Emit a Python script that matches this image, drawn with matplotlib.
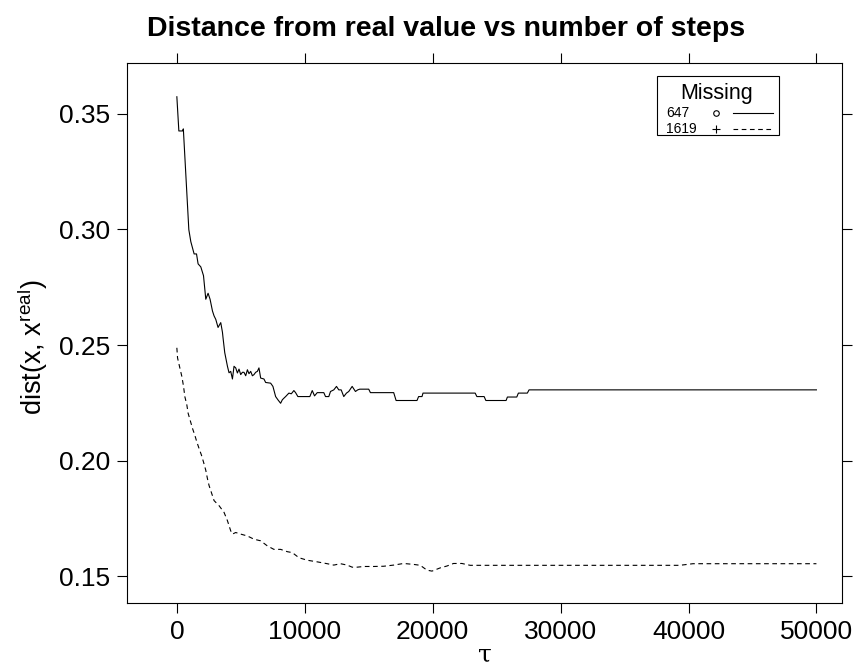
import matplotlib
matplotlib.use("Agg")
import matplotlib.pyplot as plt
from matplotlib.patches import Rectangle
from matplotlib.lines import Line2D

plt.rcParams['font.family'] = ['Liberation Sans', 'DejaVu Sans']
plt.rcParams['mathtext.fontset'] = 'custom'
plt.rcParams['mathtext.rm'] = 'Liberation Sans'

# Distance trace for 647 missing entries (solid)
tau_647 = [0, 156, 445, 507, 936, 1092, 1350, 1537, 1661, 1872, 2083, 2262, 2441,
           2597, 2785, 2909, 3042, 3221, 3432, 3565, 3611, 3744, 3955, 4079, 4212,
           4345, 4469, 4602, 4735, 4859, 4992, 5125, 5249, 5382, 5515, 5639, 5772,
           5905, 6029, 6162, 6295, 6419, 6552, 6809, 6942, 7332, 7511, 7722, 7901,
           8112, 8245, 8369, 8502, 8759, 8947, 9149, 9282, 9461, 10397, 10585,
           10764, 10975, 11489, 11622, 11879, 12012, 12269, 12480, 12659, 12847,
           13049, 13260, 13439, 13705, 13962, 14141, 14297, 15000, 15132, 16952,
           17140, 18775, 18899, 19165, 19243, 23322, 23455, 24024, 24157, 25740,
           25841, 26575, 26700, 27401, 27534, 50000]
dist_647 = [0.3574, 0.3426, 0.3426, 0.3435, 0.2999, 0.2947, 0.2894, 0.2894, 0.2851,
            0.2838, 0.2800, 0.2698, 0.2724, 0.2698, 0.2647, 0.2626, 0.2611, 0.2576,
            0.2597, 0.2555, 0.2531, 0.2467, 0.2408, 0.2380, 0.2386, 0.2353, 0.2408,
            0.2401, 0.2379, 0.2396, 0.2372, 0.2382, 0.2382, 0.2367, 0.2393, 0.2376,
            0.2386, 0.2367, 0.2372, 0.2382, 0.2386, 0.2401, 0.2357, 0.2353, 0.2338,
            0.2335, 0.2321, 0.2277, 0.2263, 0.2248, 0.2263, 0.2270, 0.2277, 0.2292,
            0.2289, 0.2303, 0.2294, 0.2277, 0.2277, 0.2303, 0.2280, 0.2294, 0.2294,
            0.2277, 0.2277, 0.2299, 0.2306, 0.2321, 0.2306, 0.2306, 0.2277, 0.2292,
            0.2299, 0.2321, 0.2299, 0.2306, 0.2309, 0.2309, 0.2294, 0.2294, 0.2260,
            0.2260, 0.2277, 0.2277, 0.2292, 0.2292, 0.2277, 0.2277, 0.2260, 0.2260,
            0.2275, 0.2275, 0.2292, 0.2292, 0.2306, 0.2306]

# Distance trace for 1619 missing entries (dashed)
tau_1619 = [0, 55, 234, 390, 523, 624, 780, 881, 1037, 1225, 1404, 1560, 1739,
            1927, 2083, 2262, 2395, 2519, 2652, 2909, 3299, 3689, 3955, 4212, 4345,
            4602, 4992, 5515, 6029, 6552, 7075, 7589, 8112, 8635, 9025, 9539, 10195,
            10975, 11755, 12269, 12792, 13315, 13705, 14095, 14609, 15389, 16169,
            16949, 17729, 18509, 19032, 19555, 19945, 20592, 21115, 21629, 22285,
            22932, 23712, 27869, 39312, 40349, 50000]
dist_1619 = [0.2488, 0.2444, 0.2401, 0.2364, 0.2321, 0.2277, 0.2241, 0.2205, 0.2175,
             0.2139, 0.2110, 0.2081, 0.2052, 0.2023, 0.1994, 0.1958, 0.1921, 0.1892,
             0.1870, 0.1827, 0.1805, 0.1776, 0.1740, 0.1696, 0.1682, 0.1689, 0.1682,
             0.1674, 0.1660, 0.1653, 0.1631, 0.1616, 0.1616, 0.1606, 0.1602, 0.1580,
             0.1569, 0.1562, 0.1554, 0.1548, 0.1554, 0.1548, 0.1539, 0.1539, 0.1542,
             0.1542, 0.1543, 0.1548, 0.1555, 0.1551, 0.1547, 0.1526, 0.1522, 0.1536,
             0.1544, 0.1555, 0.1555, 0.1547, 0.1547, 0.1547, 0.1547, 0.1554, 0.1554]

x_ticks = [0, 10000, 20000, 30000, 40000, 50000]
y_ticks = [0.15, 0.20, 0.25, 0.30, 0.35]
legend_title = "Missing"
legend_labels = ["647", "1619"]
legend_symbols = ["o", "+"]
legend_styles = ["-", (0, (4.2, 3.2))]

fig = plt.figure(figsize=(8.55, 6.68), dpi=100)
ax = fig.add_axes([0.1485, 0.0973, 0.8363, 0.8084])

ax.plot(tau_647, dist_647, color="black", lw=0.8, ls=legend_styles[0])
ax.plot(tau_1619, dist_1619, color="black", lw=0.8, ls=legend_styles[1])

ax.set_xlim(-3900, 52000)
ax.set_ylim(0.1384, 0.3720)
ax.set_xticks(x_ticks)
ax.set_xticklabels([str(t) for t in x_ticks])
ax.set_yticks(y_ticks)
ax.set_yticklabels([f"{t:.2f}" for t in y_ticks])
ax.tick_params(direction="out", length=7, width=0.8, labelsize=19,
               top=True, right=True, labeltop=False, labelright=False, pad=5)
for s in ax.spines.values():
    s.set_linewidth(0.8)

fig.text(0.522, 0.957, "Distance from real value vs number of steps",
         fontsize=20.5, fontweight="bold", ha="center", va="center")
ax.set_ylabel(r"dist(x, x$^{\mathregular{real}}$)", fontsize=19.5)
ax.yaxis.set_label_coords(-0.108, 0.474)
ax.set_xlabel("τ", fontsize=18, family=["DejaVu Serif"], labelpad=0)

# Key box in the upper right
ax.add_patch(Rectangle((0.741, 0.867), 0.171, 0.109, transform=ax.transAxes,
                       fill=False, lw=0.8, ec="black"))
ax.text(0.825, 0.944, legend_title, transform=ax.transAxes, ha="center",
        va="center", fontsize=15.5)
rows_y = [0.907, 0.878]
for lab, sym, sty, yy in zip(legend_labels, legend_symbols, legend_styles, rows_y):
    ax.text(0.754, yy, lab, transform=ax.transAxes, ha="left", va="center",
            fontsize=10)
    ax.plot([0.824], [yy], marker=sym, ms=4 if sym == "o" else 6, mfc="none",
            mec="black", mew=0.8, transform=ax.transAxes, clip_on=False)
    ax.add_line(Line2D([0.848, 0.903], [yy, yy], transform=ax.transAxes,
                       color="black", lw=0.8, ls=sty))

fig.savefig("out.png", dpi=100)
